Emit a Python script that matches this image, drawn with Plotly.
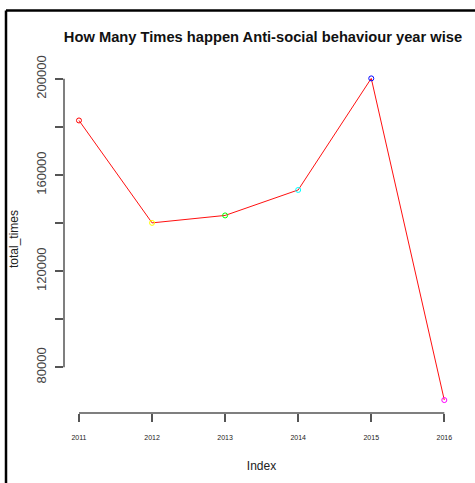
import plotly.graph_objects as go

years = [2011, 2012, 2013, 2014, 2015, 2016]
total_times = [182700, 140100, 143200, 153800, 200200, 66400]
y_tick_vals = [80000, 100000, 120000, 140000, 160000, 180000, 200000]
y_tick_text = ["80000", "", "120000", "", "160000", "", "200000"]
x_tick_text = ["2011", "2012", "2013", "2014", "2015", "2016"]

point_colors = ["#FF0000", "#FFFF00", "#00FF00", "#00FFFF", "#0000FF", "#FF00FF"]

W, H = 475, 483
L, R, T, B = 64, 16, 65, 67
pw, ph = W - L - R, H - T - B

def px_x(x):
    return (x - L) / pw

def px_y(y):
    return (H - B - y) / ph

fig = go.Figure()
fig.add_trace(go.Scatter(
    x=years, y=total_times, mode="lines",
    line=dict(color="#FF1010", width=1), hoverinfo="skip", showlegend=False))
fig.add_trace(go.Scatter(
    x=years, y=total_times, mode="markers",
    marker=dict(symbol="circle-open", size=5, color=point_colors, line=dict(width=1)),
    showlegend=False))

axis_col = "#555555"
fig.update_xaxes(
    range=[2010.795, 2016.201], tickvals=years, ticktext=x_tick_text,
    showgrid=False, zeroline=False, showline=False,
    ticks="outside", ticklen=8, tickcolor=axis_col, tickwidth=1.5,
    tickfont=dict(family="Liberation Sans", size=7, color="#222222"),
    ticklabelstandoff=10,
    title=dict(text="Index", font=dict(family="Liberation Sans", size=12, color="#222222"), standoff=21),
)
fig.update_yaxes(
    range=[61020, 205770], tickvals=y_tick_vals, ticktext=y_tick_text,
    showgrid=False, zeroline=False, showline=False,
    ticks="outside", ticklen=8, tickcolor=axis_col, tickwidth=1.5, tickangle=-90,
    tickfont=dict(family="Liberation Sans", size=13, color="#444444"),
    ticklabelstandoff=4,
    title=dict(text="total_times", font=dict(family="Liberation Sans", size=12, color="#222222"), standoff=12),
)

shapes = [
    dict(type="line", xref="x", yref="paper", x0=years[0], x1=years[-1], y0=0, y1=0,
         line=dict(color=axis_col, width=1.5)),
    dict(type="line", xref="paper", yref="y", x0=0, x1=0, y0=y_tick_vals[0], y1=y_tick_vals[-1],
         line=dict(color=axis_col, width=1.5)),
    dict(type="line", xref="paper", yref="paper", x0=px_x(6), x1=px_x(480), y0=px_y(10), y1=px_y(10),
         line=dict(color="black", width=2.5)),
    dict(type="line", xref="paper", yref="paper", x0=px_x(6), x1=px_x(6), y0=px_y(10), y1=px_y(490),
         line=dict(color="black", width=2.5)),
]

fig.update_layout(
    width=W, height=H,
    margin=dict(l=L, r=R, t=T, b=B),
    paper_bgcolor="white", plot_bgcolor="white",
    shapes=shapes,
    title=dict(text="<b>How Many Times happen Anti-social behaviour year wise</b>",
               font=dict(family="Liberation Sans", size=14.7, color="#111111"),
               x=263 / W, xanchor="center", y=1 - 37 / H, yanchor="middle"),
)

fig.write_html("out.html", config={"displayModeBar": False},
               post_script="document.body.style.margin='0';document.body.style.overflow='hidden';")
